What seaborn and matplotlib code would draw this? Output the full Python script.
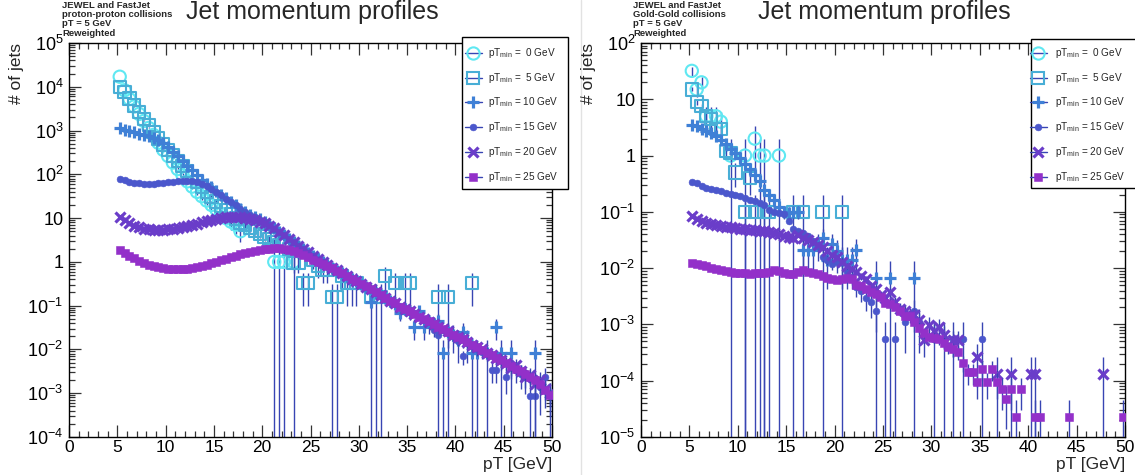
import numpy as np
import pandas as pd
import matplotlib
matplotlib.use("Agg")
import matplotlib.pyplot as plt
import seaborn as sns
from matplotlib import ticker
from matplotlib.lines import Line2D
from matplotlib.patches import Rectangle
from matplotlib.markers import MarkerStyle

nan = np.nan

# ---------------------------------------------------------------- data
# 0.5 GeV wide bins between 5 and 50 GeV (bin centres)
pt_bins = np.arange(5.25, 50.0, 0.5)

thresholds = [0, 5, 10, 15, 20, 25]
legend_labels = [r"pT$_{\mathregular{min}}$ =  0 GeV",
                 r"pT$_{\mathregular{min}}$ =  5 GeV",
                 r"pT$_{\mathregular{min}}$ = 10 GeV",
                 r"pT$_{\mathregular{min}}$ = 15 GeV",
                 r"pT$_{\mathregular{min}}$ = 20 GeV",
                 r"pT$_{\mathregular{min}}$ = 25 GeV"]

# proton-proton panel, values read as log10(# of jets)
pp_log10_pt0 = [4.23, 3.92, 3.72, 3.55, 3.38, 3.22, 3.06, 2.90, 2.72, 2.56,
                2.42, 2.27, 2.12, 1.98, 1.84, 1.72, 1.60, 1.50, 1.40, 1.30,
                1.20, 1.10, 1.00, 0.92, 0.85, 0.70, nan, nan, nan, nan,
                nan, nan, 0.0, 0.0, 0.0, nan, 0.0]
pp_log10_pt5 = [4.00, 3.88, 3.73, 3.57, 3.42, 3.27, 3.12, 2.97, 2.82, 2.68,
                2.55, 2.43, 2.31, 2.19, 2.07, 1.95, 1.83, 1.72, 1.60, 1.49,
                1.38, 1.28, 1.18, 1.09, 0.99, 0.90, 0.84, 0.77, 0.71, 0.64,
                0.58, 0.52, 0.45, 0.38, 0.40, 0.30, -0.02, -0.02, -0.49, -0.49,
                0.05, -0.10, -0.19, -0.19, -0.80, -0.80, -0.32, -0.49, -0.49, -0.49,
                nan, nan, -0.80, -0.80, -0.80, -0.32, nan, -0.49, nan, -0.49,
                -0.49, nan, nan, nan, nan, nan, -0.80, nan, -0.80, nan,
                nan, nan, nan, -0.49]
pp_log10_pt10 = [3.05, 3.02, 2.99, 2.96, 2.93, 2.90, 2.87, 2.83, 2.78, 2.71,
                 2.62, 2.52, 2.42, 2.31, 2.20, 2.09, 1.98, 1.88, 1.78, 1.70,
                 1.62, 1.53, 1.45, 1.37, 1.29, 1.21, 1.14, 1.08, 1.02, 0.97,
                 0.91, 0.84, 0.77, 0.69, 0.61, 0.53, 0.45, 0.37, 0.29, 0.21,
                 0.13, 0.06, -0.01, -0.07, -0.14, -0.20, -0.26, -0.32, -0.38, -0.44,
                 -0.50, -0.57, -0.92, -0.70, -0.76, -0.83, -0.89, -0.96, -1.16, -1.08,
                 -1.14, -1.48, -1.13, -1.48, -1.38, -1.43, -1.35, -2.08, -1.60, -1.66,
                 -1.78, -1.60, -1.78, -2.08, -2.08, nan, -2.08, nan, -1.48, -2.08,
                 nan, -2.08, nan, nan, nan, nan, -2.08, nan, nan, nan]
pp_log10_pt15 = [1.90, 1.86, 1.83, 1.81, 1.80, 1.79, 1.79, 1.79, 1.80, 1.81,
                 1.82, 1.83, 1.84, 1.85, 1.85, 1.84, 1.82, 1.78, 1.73, 1.67,
                 1.60, 1.52, 1.44, 1.36, 1.29, 1.21, 1.14, 1.08, 1.02, 0.96,
                 0.90, 0.84, 0.76, 0.69, 0.61, 0.53, 0.45, 0.37, 0.29, 0.21,
                 0.13, 0.05, -0.01, -0.08, -0.14, -0.20, -0.27, -0.32, -0.38, -0.45,
                 -0.51, -0.57, -0.63, -0.70, -0.77, -0.83, -0.90, -0.96, -1.03, -1.08,
                 -1.15, -1.20, -1.27, -1.32, -1.38, -1.55, -1.66, -1.55, -1.62, -1.70,
                 -1.80, -2.16, -1.85, -1.92, -2.00, -2.05, -2.10, -2.47, -2.47, -2.25,
                 -2.62, -2.40, -2.47, -2.55, -2.62, -3.07, -3.07, -2.85, -2.62, -3.07]
pp_log10_pt20 = [1.03, 0.95, 0.88, 0.83, 0.79, 0.76, 0.74, 0.73, 0.73, 0.73,
                 0.74, 0.75, 0.77, 0.79, 0.81, 0.84, 0.87, 0.90, 0.93, 0.96,
                 0.98, 1.00, 1.02, 1.03, 1.03, 1.03, 1.01, 0.99, 0.96, 0.92,
                 0.88, 0.83, 0.77, 0.69, 0.61, 0.53, 0.45, 0.37, 0.30, 0.22,
                 0.14, 0.06, 0.00, -0.07, -0.13, -0.19, -0.26, -0.32, -0.38, -0.44,
                 -0.50, -0.57, -0.63, -0.69, -0.76, -0.82, -0.89, -0.95, -1.02, -1.08,
                 -1.13, -1.19, -1.25, -1.31, -1.37, -1.42, -1.49, -1.53, -1.59, -1.66,
                 -1.72, -1.76, -1.83, -1.90, -1.94, -2.00, -2.07, -2.12, -2.20, -2.24,
                 -2.30, -2.42, -2.35, -2.50, -2.62, -2.58, -2.78, -2.70, -2.90, -3.00]
pp_log10_pt25 = [0.27, 0.20, 0.14, 0.08, 0.03, -0.02, -0.06, -0.09, -0.12, -0.14,
                 -0.16, -0.17, -0.17, -0.17, -0.16, -0.14, -0.12, -0.09, -0.06, -0.03,
                 0.00, 0.04, 0.07, 0.11, 0.14, 0.17, 0.20, 0.23, 0.25, 0.27,
                 0.29, 0.30, 0.31, 0.31, 0.30, 0.28, 0.25, 0.21, 0.16, 0.11,
                 0.05, 0.00, -0.04, -0.09, -0.14, -0.20, -0.26, -0.32, -0.38, -0.44,
                 -0.50, -0.56, -0.63, -0.69, -0.76, -0.82, -0.89, -0.95, -1.02, -1.07,
                 -1.13, -1.19, -1.25, -1.31, -1.36, -1.43, -1.48, -1.54, -1.60, -1.66,
                 -1.71, -1.77, -1.83, -1.89, -1.95, -2.01, -2.07, -2.13, -2.19, -2.25,
                 -2.31, -2.38, -2.45, -2.50, -2.56, -2.62, -2.70, -2.80, -2.92, -3.04]

# gold-gold panel, # of jets
auau_pt0 = [32, 15, 20, 5, 5, 5, 4, nan, 1, nan,
            nan, 1, nan, 2, 1, 1, nan, nan, 1]
auau_pt5 = [15, 9, 7.5, 5, 4.4, 3, 3, 1.2, 1.1, 0.5,
            nan, 0.1, 0.4, 0.1, nan, 0.1, 0.1, nan, nan, nan,
            nan, 0.1, nan, 0.1, nan, nan, nan, 0.1, nan, nan,
            nan, 0.1]
auau_pt10 = [3.5, 3.3, 3.0, 2.7, 2.5, 2.2, 1.9, 1.6, 1.3, 1.1,
             0.9, 0.72, 0.58, 0.45, 0.35, 0.24, 0.2, 0.16, 0.12, 0.1,
             0.095, 0.1, 0.1, 0.021, 0.021, 0.021, 0.027, 0.034, 0.014, 0.027,
             0.02, 0.014, 0.014, 0.014, 0.021, nan, nan, nan, 0.0068, nan,
             nan, 0.0068, nan, nan, nan, nan, 0.0068]
auau_pt15 = [0.34, 0.32, 0.29, 0.27, 0.25, 0.24, 0.23, 0.22, 0.21, 0.20,
             0.19, 0.175, 0.165, 0.155, 0.145, 0.13, 0.11, 0.10, 0.095, 0.09,
             0.068, 0.05, 0.045, 0.042, 0.038, 0.03, 0.025, 0.016, 0.014, 0.012,
             0.013, 0.013, 0.0087, 0.007, 0.0047, 0.004, 0.003, 0.0025, 0.0017, nan,
             0.00056, nan, 0.00056, nan, 0.0011, nan, 0.0017, 0.0011, nan, nan,
             0.00056, nan, 0.00056, nan, 0.00056, nan, 0.00056, nan, nan, nan,
             0.00056]
auau_pt20 = [0.083, 0.075, 0.068, 0.064, 0.060, 0.058, 0.056, 0.054, 0.053, 0.052,
             0.050, 0.049, 0.048, 0.047, 0.046, 0.045, 0.044, 0.042, 0.040, 0.038,
             0.036, 0.035, 0.039, 0.034, 0.032, 0.029, 0.026, 0.024, 0.020, 0.017,
             0.016, 0.013, 0.011, 0.0098, 0.0085, 0.0072, 0.0064, 0.0048, 0.0042, 0.0033,
             0.0029, 0.0038, 0.0025, 0.0019, 0.0017, 0.0015, 0.0015, 0.0012, 0.00052, 0.00098,
             0.00078, 0.00091, 0.00065, nan, 0.00052, 0.00052, nan, nan, nan, 0.00026,
             nan, nan, nan, 0.00013, nan, nan, 0.00013, nan, nan, nan,
             0.00013, 0.00013, nan, nan, nan, nan, nan, nan, nan, nan,
             nan, nan, nan, nan, nan, 0.00013]
auau_pt25 = [0.0125, 0.0118, 0.0112, 0.0107, 0.0102, 0.0097, 0.0092, 0.0088, 0.0084, 0.0082,
             0.0082, 0.0081, 0.0080, 0.0081, 0.0081, 0.0083, 0.0086, 0.0093, 0.0088, 0.0081,
             0.0080, 0.0078, 0.0085, 0.0092, 0.0085, 0.0082, 0.0078, 0.0073, 0.0068, 0.0064,
             0.0062, 0.0063, 0.0066, 0.0064, 0.0050, 0.0049, 0.0043, 0.0037, 0.0035, 0.0031,
             0.0024, 0.0023, 0.0020, 0.0017, 0.0014, 0.0014, 0.0011, 0.00085, 0.0007, 0.0006,
             0.00058, 0.00054, 0.00047, 0.0004, 0.00036, 0.00032, 0.00021, 0.00014, 0.00014, 0.000093,
             0.00016, 0.000093, 0.00016, 0.000093, 0.00007, 0.000047, 0.00007, 0.000023, 0.00007, nan,
             nan, 0.000023, 0.000023, nan, nan, nan, nan, nan, 0.000023, nan,
             nan, nan, nan, nan, nan, nan, nan, nan, nan, 0.000023]

# weight of a single reweighted entry in each sample (sets the error bars)
pp_unit_weight = [1.0, 0.16, 0.0083, 0.00085, 0.0005, 0.0002]
auau_unit_weight = [1.0, 0.1, 0.0068, 0.00056, 0.00013, 2.3e-5]

# ---------------------------------------------------------------- style
colors = ["#5fe8f2", "#48aed6", "#3f80d6", "#4b57cc", "#6a3dc9", "#9330c9"]
markers = [MarkerStyle("o", fillstyle="none"), MarkerStyle("s", fillstyle="none"),
           "+", "o", "x", "s"]
sizes = [78, 78, 85, 24, 52, 28]
widths = [1.5, 1.5, 2.3, 0.4, 2.3, 0.4]
ERR_COLOR = "#3845b3"

sns.set_theme(style="ticks")
plt.rcParams["font.family"] = ["Liberation Sans", "DejaVu Sans"]
plt.rcParams["mathtext.fontset"] = "custom"
plt.rcParams["mathtext.rm"] = "Liberation Sans"
plt.rcParams["mathtext.it"] = "Liberation Sans:italic"
plt.rcParams["mathtext.bf"] = "Liberation Sans:bold"
plt.rcParams["axes.linewidth"] = 1.0
plt.rcParams["axes.edgecolor"] = "black"

W, H = 1135, 475
fig = plt.figure(figsize=(W / 100, H / 100), dpi=100)
fig.patch.set_facecolor("white")


def fx(px):
    return px / W


def fy(py):
    return 1 - py / H


def root_fmt(v, pos):
    e = int(round(np.log10(v)))
    if e == 0:
        return "1"
    if e == 1:
        return "10"
    return r"$\mathregular{10^{%d}}$" % e


def draw_panel(ax, series, weights, decades):
    for k, (vals, w) in enumerate(zip(series, weights)):
        v = np.full(len(pt_bins), np.nan)
        v[:len(vals)] = np.asarray(vals, dtype=float)
        m = ~np.isnan(v)
        x = pt_bins[m]
        y = v[m]
        err = np.sqrt(y * w)
        lo = np.where(y - err > 0, y - err, 1e-12)
        hi = y + err
        ax.vlines(x, lo, hi, color=ERR_COLOR, lw=1.0, zorder=2 + 2 * k)
        df = pd.DataFrame({"pT": x, "jets": y})
        kw = dict(marker=markers[k], s=sizes[k], color=colors[k],
                  linewidth=widths[k], legend=False, zorder=3 + 2 * k)
        if k in (3, 5):
            kw["edgecolor"] = colors[k]
        sns.scatterplot(data=df, x="pT", y="jets", ax=ax, **kw)
    lo_dec, hi_dec = decades
    ax.set_yscale("log")
    ax.set_xlim(0, 50)
    ax.set_ylim(10.0 ** lo_dec, 10.0 ** hi_dec)
    ax.set_xlabel("")
    ax.set_ylabel("")
    ax.set_facecolor("white")
    ax.xaxis.set_major_locator(ticker.MultipleLocator(5))
    ax.xaxis.set_minor_locator(ticker.MultipleLocator(1))
    majors = [10.0 ** e for e in range(lo_dec, hi_dec + 1)]
    minors = [s * 10.0 ** e for e in range(lo_dec, hi_dec) for s in range(2, 10)]
    ax.yaxis.set_major_locator(ticker.FixedLocator(majors))
    ax.yaxis.set_minor_locator(ticker.FixedLocator(minors))
    ax.yaxis.set_minor_formatter(ticker.NullFormatter())
    ax.yaxis.set_major_formatter(ticker.FuncFormatter(root_fmt))
    ax.tick_params(which="both", direction="in", top=True, right=True,
                   color="#333333", width=0.9, labelcolor="black")
    ax.tick_params(which="major", length=8.6)
    ax.tick_params(which="minor", length=4.3)
    ax.tick_params(axis="y", which="major", labelsize=13, pad=4)
    ax.tick_params(axis="x", which="major", labelsize=12.5, pad=2.5)
    for sp in ax.spines.values():
        sp.set_color("black")
        sp.set_linewidth(1.0)


ax_l = fig.add_axes([fx(69), fy(437), (552 - 69) / W, (437 - 43) / H])
ax_r = fig.add_axes([fx(641), fy(437), (1125 - 641) / W, (437 - 43) / H])

pp_series = [10 ** np.asarray(s, dtype=float) for s in
             [pp_log10_pt0, pp_log10_pt5, pp_log10_pt10,
              pp_log10_pt15, pp_log10_pt20, pp_log10_pt25]]
auau_series = [auau_pt0, auau_pt5, auau_pt10, auau_pt15, auau_pt20, auau_pt25]

draw_panel(ax_l, pp_series, pp_unit_weight, (-4, 5))
draw_panel(ax_r, auau_series, auau_unit_weight, (-5, 2))

# separator between the two canvases
fig.add_artist(Line2D([fx(581), fx(581)], [0, 1], color="#e2e2e2", lw=1.0))

# ---------------------------------------------------------------- texts
headers = [["JEWEL and FastJet", "proton-proton collisions", "pT = 5 GeV", "Reweighted"],
           ["JEWEL and FastJet", "Gold-Gold collisions", "pT = 5 GeV", "Reweighted"]]
header_x = [62, 633]
title_x = [186, 758]
ylabel_x = [17, 589]
axis_right = [552, 1125]
for p in range(2):
    for j, line in enumerate(headers[p]):
        fig.text(fx(header_x[p]), fy(5 + 9.5 * j), line, fontsize=6.8,
                 fontweight="bold", ha="left", va="center", zorder=10)
    fig.text(fx(title_x[p]), fy(12), "Jet momentum profiles", fontsize=18,
             ha="left", va="center")
    fig.text(fx(ylabel_x[p]), fy(43), "# of jets", rotation=90, fontsize=12.5,
             ha="center", va="top")
    fig.text(fx(axis_right[p]), fy(465), "pT [GeV]", fontsize=12.5,
             ha="right", va="center")

# ---------------------------------------------------------------- legends
legend_boxes = [(462, 37, 568, 189), (1031, 39, 1142, 188)]
legend_marker_x = [473, 1038]
legend_text_x = [488, 1055]
row_y = [53, 77.5, 102, 127, 152, 176.5]
for p in range(2):
    x0, y0, x1, y1 = legend_boxes[p]
    fig.add_artist(Rectangle((fx(x0), fy(y1)), (x1 - x0) / W, (y1 - y0) / H,
                             facecolor="white", edgecolor="black", lw=1.0,
                             transform=fig.transFigure, zorder=20))
    mx = legend_marker_x[p]
    for k in range(6):
        yy = fy(row_y[k])
        fig.add_artist(Line2D([fx(mx - 8.5), fx(mx + 8.5)], [yy, yy], color=ERR_COLOR,
                              lw=1.0, transform=fig.transFigure, zorder=21))
        filled = k in (3, 5)
        fig.add_artist(Line2D([fx(mx)], [yy], marker=markers[k], linestyle="none",
                              markersize=np.sqrt(sizes[k]),
                              markeredgewidth=widths[k] if not filled else 0.4,
                              color=colors[k], markeredgecolor=colors[k],
                              transform=fig.transFigure, zorder=22))
        fig.text(fx(legend_text_x[p]), yy, legend_labels[k], fontsize=7.2,
                 ha="left", va="center", zorder=23)

fig.savefig("out.png", dpi=100, facecolor="white")
